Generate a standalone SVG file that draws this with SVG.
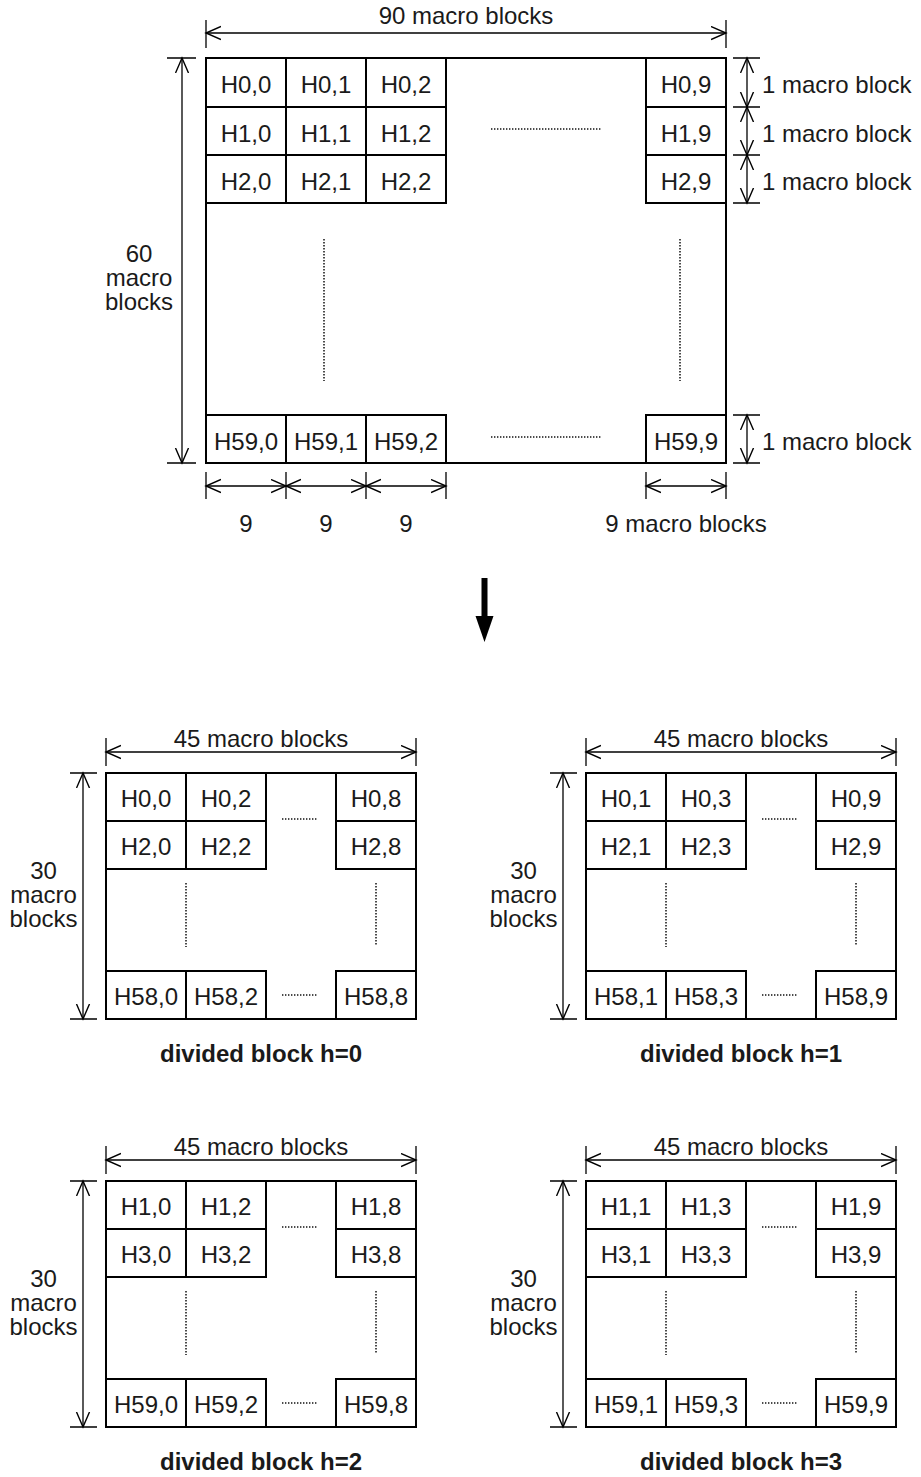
<svg xmlns="http://www.w3.org/2000/svg" width="921" height="1477" viewBox="0 0 921 1477">
<defs>
<style>
.frame{fill:none;stroke:#000;stroke-width:2}
.cell rect{fill:#fff;stroke:#000;stroke-width:2}
.t{font-family:"Liberation Sans",Arial,sans-serif;font-size:24px;fill:#1a1a1a}
.c{text-anchor:middle}
.b{font-weight:bold}
.dim{stroke:#000;stroke-width:1.3;fill:none}
.arr{stroke:#000;stroke-width:1.3;fill:none;marker-start:url(#ah);marker-end:url(#ah)}
.dot{stroke:#111;stroke-width:1.5;stroke-dasharray:1.4 1.6;fill:none}
</style>
<marker id="ah" markerUnits="userSpaceOnUse" markerWidth="18" markerHeight="16" refX="15" refY="7.5" orient="auto-start-reverse" viewBox="0 0 18 16">
<path d="M0,1 L15,7.5 L0,14" fill="none" stroke="#000" stroke-width="1.4"/>
</marker>
</defs>
<rect width="921" height="1477" fill="#fff"/>

<!-- main picture -->
<g id="main">
<rect class="frame" x="206" y="58" width="520" height="405"/>
<g id="m00" class="cell"><rect x="206" y="58" width="80" height="49"/><text class="t c" x="246" y="92.5">H0,0</text></g>
<g id="m01" class="cell"><rect x="286" y="58" width="80" height="49"/><text class="t c" x="326" y="92.5">H0,1</text></g>
<g id="m02" class="cell"><rect x="366" y="58" width="80" height="49"/><text class="t c" x="406" y="92.5">H0,2</text></g>
<g id="m09" class="cell"><rect x="646" y="58" width="80" height="49"/><text class="t c" x="686" y="92.5">H0,9</text></g>
<g id="m10" class="cell"><rect x="206" y="107" width="80" height="48"/><text class="t c" x="246" y="141.5">H1,0</text></g>
<g id="m11" class="cell"><rect x="286" y="107" width="80" height="48"/><text class="t c" x="326" y="141.5">H1,1</text></g>
<g id="m12" class="cell"><rect x="366" y="107" width="80" height="48"/><text class="t c" x="406" y="141.5">H1,2</text></g>
<g id="m19" class="cell"><rect x="646" y="107" width="80" height="48"/><text class="t c" x="686" y="141.5">H1,9</text></g>
<g id="m20" class="cell"><rect x="206" y="155" width="80" height="48"/><text class="t c" x="246" y="189.5">H2,0</text></g>
<g id="m21" class="cell"><rect x="286" y="155" width="80" height="48"/><text class="t c" x="326" y="189.5">H2,1</text></g>
<g id="m22" class="cell"><rect x="366" y="155" width="80" height="48"/><text class="t c" x="406" y="189.5">H2,2</text></g>
<g id="m29" class="cell"><rect x="646" y="155" width="80" height="48"/><text class="t c" x="686" y="189.5">H2,9</text></g>
<g id="m590" class="cell"><rect x="206" y="415" width="80" height="48"/><text class="t c" x="246" y="449.5">H59,0</text></g>
<g id="m591" class="cell"><rect x="286" y="415" width="80" height="48"/><text class="t c" x="326" y="449.5">H59,1</text></g>
<g id="m592" class="cell"><rect x="366" y="415" width="80" height="48"/><text class="t c" x="406" y="449.5">H59,2</text></g>
<g id="m599" class="cell"><rect x="646" y="415" width="80" height="48"/><text class="t c" x="686" y="449.5">H59,9</text></g>
<path class="dot" d="M491,129H601M491,437H601M324,239V381M680,239V381"/>
</g>

<!-- dimensions of main picture -->
<g id="main-dims">
<path class="dim" d="M206,20V48M726,20V48"/>
<line class="arr" x1="206" y1="33" x2="726" y2="33"/>
<text class="t c" x="466" y="23.5">90 macro blocks</text>

<path class="dim" d="M167,58H196M167,463H196"/>
<line class="arr" x1="182" y1="58" x2="182" y2="463"/>
<text class="t c" x="139" y="262">60</text>
<text class="t c" x="139" y="286">macro</text>
<text class="t c" x="139" y="310">blocks</text>

<path class="dim" d="M733,58H760M733,107H760M733,155H760M733,203H760M733,415H760M733,463H760"/>
<line class="arr" x1="747" y1="58" x2="747" y2="107"/>
<line class="arr" x1="747" y1="107" x2="747" y2="155"/>
<line class="arr" x1="747" y1="155" x2="747" y2="203"/>
<line class="arr" x1="747" y1="415" x2="747" y2="463"/>
<text class="t" x="762" y="92.5">1 macro block</text>
<text class="t" x="762" y="141.5">1 macro block</text>
<text class="t" x="762" y="189.5">1 macro block</text>
<text class="t" x="762" y="449.5">1 macro block</text>

<path class="dim" d="M206,472V499M286,472V499M366,472V499M446,472V499M646,472V499M726,472V499"/>
<line class="arr" x1="206" y1="486" x2="286" y2="486"/>
<line class="arr" x1="286" y1="486" x2="366" y2="486"/>
<line class="arr" x1="366" y1="486" x2="446" y2="486"/>
<line class="arr" x1="646" y1="486" x2="726" y2="486"/>
<text class="t c" x="246" y="532">9</text>
<text class="t c" x="326" y="532">9</text>
<text class="t c" x="406" y="532">9</text>
<text class="t c" x="686" y="532">9 macro blocks</text>
</g>

<!-- big down arrow -->
<g id="connectors">
<rect x="481.5" y="578" width="6" height="40" fill="#000"/>
<polygon points="475.5,616 493.5,616 484.5,642" fill="#000"/>
</g>

<!-- divided block h=0 -->
<g id="block-h0">
<rect class="frame" x="106" y="773" width="310" height="246"/>
<g id="h0-a" class="cell"><rect x="106" y="773" width="80" height="48"/><text class="t c" x="146" y="807">H0,0</text></g>
<g id="h0-b" class="cell"><rect x="186" y="773" width="80" height="48"/><text class="t c" x="226" y="807">H0,2</text></g>
<g id="h0-c" class="cell"><rect x="336" y="773" width="80" height="48"/><text class="t c" x="376" y="807">H0,8</text></g>
<g id="h0-d" class="cell"><rect x="106" y="821" width="80" height="48"/><text class="t c" x="146" y="855">H2,0</text></g>
<g id="h0-e" class="cell"><rect x="186" y="821" width="80" height="48"/><text class="t c" x="226" y="855">H2,2</text></g>
<g id="h0-f" class="cell"><rect x="336" y="821" width="80" height="48"/><text class="t c" x="376" y="855">H2,8</text></g>
<g id="h0-g" class="cell"><rect x="106" y="971" width="80" height="48"/><text class="t c" x="146" y="1005">H58,0</text></g>
<g id="h0-h" class="cell"><rect x="186" y="971" width="80" height="48"/><text class="t c" x="226" y="1005">H58,2</text></g>
<g id="h0-i" class="cell"><rect x="336" y="971" width="80" height="48"/><text class="t c" x="376" y="1005">H58,8</text></g>
<path class="dot" d="M282,819H317M282,995H317M186,883V947M376,883V946"/>
<path class="dim" d="M106,738V766M416,738V766M70,773H97M70,1019H97"/>
<line class="arr" x1="106" y1="752" x2="416" y2="752"/>
<line class="arr" x1="83" y1="773" x2="83" y2="1019"/>
<text class="t c" x="261" y="746.5">45 macro blocks</text>
<text class="t c" x="43.5" y="879">30</text>
<text class="t c" x="43.5" y="903">macro</text>
<text class="t c" x="43.5" y="927">blocks</text>
<text class="t c b" x="261" y="1062">divided block h=0</text>
</g>

<!-- divided block h=1 -->
<g id="block-h1" transform="translate(480,0)">
<rect class="frame" x="106" y="773" width="310" height="246"/>
<g id="h1-a" class="cell"><rect x="106" y="773" width="80" height="48"/><text class="t c" x="146" y="807">H0,1</text></g>
<g id="h1-b" class="cell"><rect x="186" y="773" width="80" height="48"/><text class="t c" x="226" y="807">H0,3</text></g>
<g id="h1-c" class="cell"><rect x="336" y="773" width="80" height="48"/><text class="t c" x="376" y="807">H0,9</text></g>
<g id="h1-d" class="cell"><rect x="106" y="821" width="80" height="48"/><text class="t c" x="146" y="855">H2,1</text></g>
<g id="h1-e" class="cell"><rect x="186" y="821" width="80" height="48"/><text class="t c" x="226" y="855">H2,3</text></g>
<g id="h1-f" class="cell"><rect x="336" y="821" width="80" height="48"/><text class="t c" x="376" y="855">H2,9</text></g>
<g id="h1-g" class="cell"><rect x="106" y="971" width="80" height="48"/><text class="t c" x="146" y="1005">H58,1</text></g>
<g id="h1-h" class="cell"><rect x="186" y="971" width="80" height="48"/><text class="t c" x="226" y="1005">H58,3</text></g>
<g id="h1-i" class="cell"><rect x="336" y="971" width="80" height="48"/><text class="t c" x="376" y="1005">H58,9</text></g>
<path class="dot" d="M282,819H317M282,995H317M186,883V947M376,883V946"/>
<path class="dim" d="M106,738V766M416,738V766M70,773H97M70,1019H97"/>
<line class="arr" x1="106" y1="752" x2="416" y2="752"/>
<line class="arr" x1="83" y1="773" x2="83" y2="1019"/>
<text class="t c" x="261" y="746.5">45 macro blocks</text>
<text class="t c" x="43.5" y="879">30</text>
<text class="t c" x="43.5" y="903">macro</text>
<text class="t c" x="43.5" y="927">blocks</text>
<text class="t c b" x="261" y="1062">divided block h=1</text>
</g>

<!-- divided block h=2 -->
<g id="block-h2" transform="translate(0,408)">
<rect class="frame" x="106" y="773" width="310" height="246"/>
<g id="h2-a" class="cell"><rect x="106" y="773" width="80" height="48"/><text class="t c" x="146" y="807">H1,0</text></g>
<g id="h2-b" class="cell"><rect x="186" y="773" width="80" height="48"/><text class="t c" x="226" y="807">H1,2</text></g>
<g id="h2-c" class="cell"><rect x="336" y="773" width="80" height="48"/><text class="t c" x="376" y="807">H1,8</text></g>
<g id="h2-d" class="cell"><rect x="106" y="821" width="80" height="48"/><text class="t c" x="146" y="855">H3,0</text></g>
<g id="h2-e" class="cell"><rect x="186" y="821" width="80" height="48"/><text class="t c" x="226" y="855">H3,2</text></g>
<g id="h2-f" class="cell"><rect x="336" y="821" width="80" height="48"/><text class="t c" x="376" y="855">H3,8</text></g>
<g id="h2-g" class="cell"><rect x="106" y="971" width="80" height="48"/><text class="t c" x="146" y="1005">H59,0</text></g>
<g id="h2-h" class="cell"><rect x="186" y="971" width="80" height="48"/><text class="t c" x="226" y="1005">H59,2</text></g>
<g id="h2-i" class="cell"><rect x="336" y="971" width="80" height="48"/><text class="t c" x="376" y="1005">H59,8</text></g>
<path class="dot" d="M282,819H317M282,995H317M186,883V947M376,883V946"/>
<path class="dim" d="M106,738V766M416,738V766M70,773H97M70,1019H97"/>
<line class="arr" x1="106" y1="752" x2="416" y2="752"/>
<line class="arr" x1="83" y1="773" x2="83" y2="1019"/>
<text class="t c" x="261" y="746.5">45 macro blocks</text>
<text class="t c" x="43.5" y="879">30</text>
<text class="t c" x="43.5" y="903">macro</text>
<text class="t c" x="43.5" y="927">blocks</text>
<text class="t c b" x="261" y="1062">divided block h=2</text>
</g>

<!-- divided block h=3 -->
<g id="block-h3" transform="translate(480,408)">
<rect class="frame" x="106" y="773" width="310" height="246"/>
<g id="h3-a" class="cell"><rect x="106" y="773" width="80" height="48"/><text class="t c" x="146" y="807">H1,1</text></g>
<g id="h3-b" class="cell"><rect x="186" y="773" width="80" height="48"/><text class="t c" x="226" y="807">H1,3</text></g>
<g id="h3-c" class="cell"><rect x="336" y="773" width="80" height="48"/><text class="t c" x="376" y="807">H1,9</text></g>
<g id="h3-d" class="cell"><rect x="106" y="821" width="80" height="48"/><text class="t c" x="146" y="855">H3,1</text></g>
<g id="h3-e" class="cell"><rect x="186" y="821" width="80" height="48"/><text class="t c" x="226" y="855">H3,3</text></g>
<g id="h3-f" class="cell"><rect x="336" y="821" width="80" height="48"/><text class="t c" x="376" y="855">H3,9</text></g>
<g id="h3-g" class="cell"><rect x="106" y="971" width="80" height="48"/><text class="t c" x="146" y="1005">H59,1</text></g>
<g id="h3-h" class="cell"><rect x="186" y="971" width="80" height="48"/><text class="t c" x="226" y="1005">H59,3</text></g>
<g id="h3-i" class="cell"><rect x="336" y="971" width="80" height="48"/><text class="t c" x="376" y="1005">H59,9</text></g>
<path class="dot" d="M282,819H317M282,995H317M186,883V947M376,883V946"/>
<path class="dim" d="M106,738V766M416,738V766M70,773H97M70,1019H97"/>
<line class="arr" x1="106" y1="752" x2="416" y2="752"/>
<line class="arr" x1="83" y1="773" x2="83" y2="1019"/>
<text class="t c" x="261" y="746.5">45 macro blocks</text>
<text class="t c" x="43.5" y="879">30</text>
<text class="t c" x="43.5" y="903">macro</text>
<text class="t c" x="43.5" y="927">blocks</text>
<text class="t c b" x="261" y="1062">divided block h=3</text>
</g>
</svg>
